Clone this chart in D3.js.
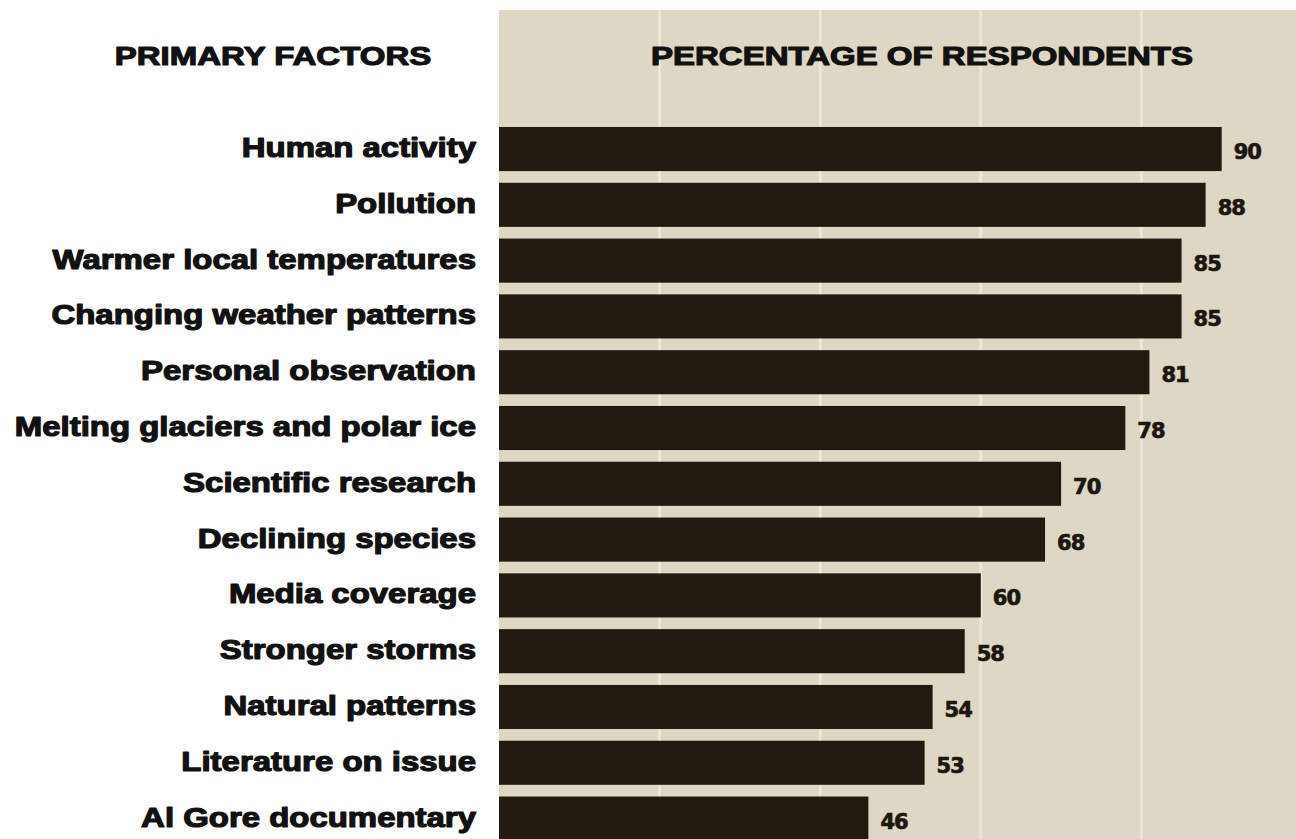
<!DOCTYPE html>
<html>
<head>
<meta charset="utf-8">
<script src="https://cdn.jsdelivr.net/npm/d3@7"></script>
<style>
  html, body { margin: 0; padding: 0; background: #ffffff; }
  svg { display: block; }
</style>
</head>
<body>
<svg id="chart" width="1296" height="839"></svg>
<script>
// Factors cited by respondents and their share (%)
const categories = [
  "Human activity",
  "Pollution",
  "Warmer local temperatures",
  "Changing weather patterns",
  "Personal observation",
  "Melting glaciers and polar ice",
  "Scientific research",
  "Declining species",
  "Media coverage",
  "Stronger storms",
  "Natural patterns",
  "Literature on issue",
  "Al Gore documentary"
];
const percentages = [90, 88, 85, 85, 81, 78, 70, 68, 60, 58, 54, 53, 46];
const gridTicks = [20, 40, 60, 80];
const headers = ["PRIMARY FACTORS", "PERCENTAGE OF RESPONDENTS"];

const W = 1296, H = 839;
const svg = d3.select("#chart");

const x = d3.scaleLinear().domain([0, 100]).range([499, 1302]);
const y = d3.scaleBand().domain(categories).range([127, 840.6]).paddingInner(0.21).paddingOuter(0);

// beige plotting panel
svg.append("rect")
  .attr("x", x(0)).attr("y", 10)
  .attr("width", W - x(0)).attr("height", H - 10)
  .attr("fill", "#ddd7c3");

// vertical grid lines
svg.append("g").selectAll("line")
  .data(gridTicks)
  .join("line")
  .attr("x1", d => x(d)).attr("x2", d => x(d))
  .attr("y1", 10).attr("y2", H)
  .attr("stroke", "#ece6d6")
  .attr("stroke-width", 3);

// heavy, wide sans used for headers and category names
const headFont = "'Liberation Sans', Arial, sans-serif";

function wideText(sel, px, py, sx, anchor, size, stroke, str) {
  sel.append("g")
    .attr("transform", `translate(${px},${py}) scale(${sx},1)`)
    .append("text")
    .attr("text-anchor", anchor)
    .attr("font-family", headFont).attr("font-weight", "bold")
    .attr("font-size", size)
    .attr("stroke", "#111").attr("stroke-width", stroke)
    .attr("stroke-linejoin", "round")
    .attr("fill", "#111")
    .text(str);
}

// column headers
wideText(svg, 273, 65, 1.32, "middle", 25, 1.1, headers[0]);
wideText(svg, 922, 65, 1.32, "middle", 25, 1.1, headers[1]);

const rows = categories.map((c, i) => ({ cat: c, val: percentages[i] }));

// bars
svg.append("g").selectAll("rect")
  .data(rows)
  .join("rect")
  .attr("x", x(0))
  .attr("y", d => y(d.cat))
  .attr("width", d => x(d.val) - x(0))
  .attr("height", y.bandwidth())
  .attr("fill", "#221a10");

// category labels, right-aligned next to the panel
const labels = svg.append("g");
rows.forEach(d => {
  wideText(labels, 476, y(d.cat) + y.bandwidth() / 2 + 8, 1.22, "end", 27, 1.2, d.cat);
});

// value labels
svg.append("g").selectAll("text")
  .data(rows)
  .join("text")
  .attr("x", d => x(d.val) + 12)
  .attr("y", d => y(d.cat) + y.bandwidth() / 2 + 10)
  .attr("font-family", "'DejaVu Sans', sans-serif")
  .attr("font-weight", "bold")
  .attr("font-size", 21)
  .attr("letter-spacing", -1)
  .attr("stroke", "#1b1610").attr("stroke-width", 0.7)
  .attr("fill", "#1b1610")
  .text(d => d.val);
</script>
</body>
</html>
